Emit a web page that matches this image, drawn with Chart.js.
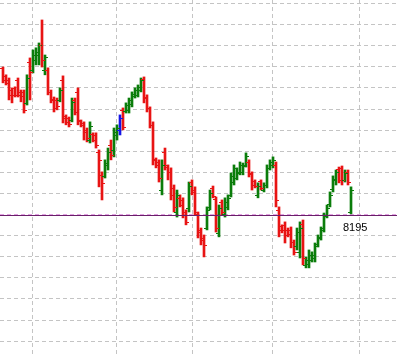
<!DOCTYPE html>
<html>
<head>
<meta charset="utf-8">
<script src="https://cdn.jsdelivr.net/npm/chart.js@4"></script>
<style>
  html, body { margin: 0; padding: 0; background: #fff; }
  canvas { display: block; }
</style>
</head>
<body>
<canvas id="chart" width="397" height="354"></canvas>
<script>
// OHLC prices, one entry per bar (left to right)
const opens = [8264.5, 8260.7, 8258.8, 8254.0, 8255.0, 8258.8, 8253.1, 8253.1, 8247.9, 8267.3,
  8263.5, 8268.3, 8270.6, 8275.4, 8263.5, 8263.5, 8253.1, 8249.8, 8249.3, 8249.3,
  8258.8, 8241.7, 8240.8, 8239.8, 8249.3, 8253.1, 8239.3, 8238.4, 8235.1, 8230.3,
  8233.2, 8232.7, 8224.7, 8213.8, 8213.3, 8218.5, 8228.0, 8225.6, 8232.7, 8235.1,
  8244.6, 8244.1, 8244.6, 8247.4, 8251.2, 8251.7, 8254.0, 8259.3, 8250.7, 8245.5,
  8237.5, 8221.3, 8219.9, 8206.6, 8224.7, 8217.5, 8215.2, 8207.6, 8196.2, 8202.9,
  8201.9, 8196.2, 8198.1, 8210.4, 8206.6, 8195.3, 8187.7, 8183.9, 8188.6, 8198.6,
  8207.6, 8202.4, 8186.3, 8201.0, 8195.3, 8198.6, 8204.3, 8210.4, 8212.3, 8214.7,
  8215.2, 8218.5, 8219.9, 8214.2, 8210.9, 8204.3, 8210.9, 8206.6, 8209.0, 8217.1,
  8218.5, 8218.5, 8197.2, 8189.6, 8190.1, 8187.7, 8187.7, 8182.0, 8180.1, 8177.3,
  8190.5, 8171.1, 8171.6, 8173.5, 8174.4, 8181.0, 8184.4, 8188.6, 8194.8, 8200.0,
  8207.1, 8211.4, 8216.6, 8217.1, 8211.4, 8215.2, 8196.2];

const highs = [8264.9, 8261.2, 8259.7, 8255.0, 8255.5, 8259.7, 8254.0, 8254.0, 8261.2, 8269.2,
  8273.0, 8274.0, 8276.3, 8287.2, 8270.6, 8264.5, 8254.0, 8250.7, 8250.2, 8255.0,
  8260.7, 8242.2, 8241.2, 8250.2, 8250.2, 8255.0, 8239.8, 8238.9, 8236.0, 8238.9,
  8233.7, 8233.7, 8225.6, 8215.2, 8220.9, 8226.5, 8230.3, 8236.0, 8237.5, 8242.2,
  8245.5, 8247.9, 8250.2, 8253.1, 8255.0, 8256.4, 8259.7, 8260.2, 8251.7, 8246.0,
  8238.9, 8221.8, 8220.9, 8220.9, 8226.5, 8218.5, 8217.1, 8209.0, 8206.6, 8204.3,
  8202.9, 8197.2, 8210.4, 8211.4, 8208.1, 8196.2, 8188.6, 8185.3, 8198.6, 8206.6,
  8208.5, 8203.3, 8199.5, 8201.9, 8202.9, 8204.3, 8214.7, 8218.5, 8217.1, 8219.9,
  8219.4, 8224.2, 8220.9, 8215.2, 8211.4, 8210.0, 8211.4, 8210.0, 8218.5, 8220.9,
  8222.3, 8219.9, 8198.6, 8190.1, 8191.5, 8188.6, 8189.1, 8182.9, 8188.6, 8191.5,
  8192.4, 8174.9, 8178.2, 8177.3, 8181.5, 8185.3, 8189.1, 8195.7, 8199.5, 8205.7,
  8213.3, 8216.1, 8217.5, 8218.0, 8216.1, 8216.1, 8208.1];

const lows = [8257.4, 8256.4, 8249.3, 8247.9, 8250.7, 8250.7, 8248.4, 8243.1, 8246.9, 8249.3,
  8262.1, 8265.9, 8265.9, 8264.9, 8261.2, 8251.7, 8247.9, 8243.6, 8244.6, 8248.4,
  8238.4, 8237.5, 8236.5, 8238.9, 8242.2, 8237.5, 8236.5, 8230.3, 8229.4, 8228.9,
  8229.4, 8226.5, 8208.1, 8201.9, 8212.3, 8216.1, 8220.9, 8222.3, 8230.3, 8232.7,
  8235.1, 8243.1, 8243.1, 8246.0, 8250.2, 8250.7, 8253.1, 8247.9, 8243.6, 8236.0,
  8218.5, 8217.1, 8210.4, 8204.3, 8216.1, 8211.4, 8201.9, 8196.2, 8193.8, 8198.6,
  8193.4, 8190.1, 8196.2, 8204.3, 8194.8, 8183.9, 8180.6, 8174.9, 8187.7, 8197.2,
  8202.9, 8186.7, 8184.4, 8194.8, 8193.8, 8197.2, 8203.3, 8209.0, 8211.4, 8213.8,
  8213.8, 8217.5, 8212.8, 8206.6, 8207.6, 8202.9, 8206.6, 8205.7, 8207.6, 8216.1,
  8217.1, 8198.6, 8184.4, 8186.3, 8181.5, 8184.4, 8179.2, 8175.8, 8178.2, 8174.4,
  8171.1, 8169.7, 8169.7, 8172.5, 8172.5, 8179.6, 8182.9, 8186.7, 8193.4, 8198.6,
  8205.7, 8209.0, 8210.0, 8209.0, 8210.4, 8209.0, 8195.3];

const closes = [8258.8, 8257.4, 8251.7, 8251.7, 8251.7, 8251.7, 8251.2, 8244.6, 8259.7, 8262.6,
  8270.6, 8272.0, 8275.4, 8268.3, 8269.7, 8253.1, 8249.3, 8245.5, 8246.5, 8254.0,
  8240.8, 8238.9, 8237.9, 8248.4, 8243.6, 8239.8, 8237.5, 8234.1, 8231.3, 8237.0,
  8230.3, 8228.0, 8220.9, 8210.0, 8219.4, 8224.7, 8223.2, 8234.1, 8236.0, 8240.8,
  8236.5, 8246.9, 8249.3, 8252.1, 8254.0, 8255.5, 8258.8, 8250.2, 8245.5, 8237.5,
  8220.9, 8218.5, 8212.3, 8218.5, 8218.5, 8215.2, 8204.3, 8198.6, 8204.3, 8199.5,
  8194.8, 8191.5, 8208.5, 8205.7, 8196.2, 8186.7, 8182.9, 8180.6, 8197.2, 8205.2,
  8203.8, 8188.6, 8198.1, 8196.2, 8201.0, 8202.9, 8213.3, 8217.1, 8215.2, 8218.5,
  8218.0, 8222.8, 8214.7, 8209.0, 8208.5, 8208.5, 8207.6, 8209.0, 8217.1, 8219.9,
  8220.9, 8201.9, 8187.7, 8187.7, 8185.3, 8185.8, 8182.0, 8177.3, 8186.7, 8188.6,
  8174.4, 8173.5, 8175.8, 8175.8, 8180.1, 8183.9, 8187.7, 8194.3, 8198.1, 8204.3,
  8211.9, 8215.2, 8211.4, 8211.4, 8214.7, 8210.4, 8206.6];

// bars drawn in the "selected" colour
const markedBars = [39];

// horizontal price line and its label
const levelPrice = 8195;

// price grid and session separators (x in bar units)
const priceTicks = [8135, 8145, 8155, 8165, 8175, 8185, 8195, 8205, 8215, 8225, 8235, 8245, 8255, 8265, 8275, 8285, 8295];
const sessionBreaks = [9.67, 37.67, 63, 89.67, 118.67];

const UP = '#0b7d0b';
const DOWN = '#e81414';
const MARK = '#1414e6';

function barColor(i) {
  if (markedBars.includes(i)) return MARK;
  return closes[i] >= opens[i] ? UP : DOWN;
}

// open tick on the left, close tick on the right of each bar
const ohlcTicks = {
  id: 'ohlcTicks',
  afterDatasetsDraw(chart) {
    const { ctx, chartArea, scales: { x, y } } = chart;
    ctx.save();
    opens.forEach((o, i) => {
      const px = Math.round(x.getPixelForValue(i));
      ctx.fillStyle = barColor(i);
      ctx.fillRect(px - 3, Math.round(y.getPixelForValue(o)), 2, 1);
      ctx.fillRect(px + 1, Math.round(y.getPixelForValue(closes[i])), 2, 1);
    });

    // level line
    const ly = Math.round(y.getPixelForValue(levelPrice));
    ctx.fillStyle = '#6a1f6a';
    ctx.fillRect(chartArea.left, ly, chartArea.right - chartArea.left, 1);

    ctx.fillStyle = '#000';
    ctx.font = '11px "Liberation Sans", Arial, sans-serif';
    ctx.textBaseline = 'alphabetic';
    ctx.textAlign = 'left';
    ctx.fillText(String(levelPrice), 343, ly + 16);
    ctx.restore();
  }
};

const ctx = document.getElementById('chart').getContext('2d');

new Chart(ctx, {
  type: 'bar',
  data: {
    datasets: [{
      data: opens.map((o, i) => ({ x: i, y: [lows[i], highs[i]] })),
      backgroundColor: opens.map((o, i) => barColor(i)),
      borderWidth: 0,
      barThickness: 2,
      grouped: false
    }]
  },
  options: {
    responsive: false,
    animation: false,
    events: [],
    layout: { padding: 0 },
    plugins: {
      legend: { display: false },
      tooltip: { enabled: false }
    },
    scales: {
      x: {
        type: 'linear',
        min: -1,
        max: 131.333,
        offset: false,
        ticks: { display: false },
        border: { display: false, dash: [4, 3] },
        grid: { offset: false, drawTicks: false, color: '#c4c4c4', lineWidth: 1 },
        afterBuildTicks: (scale) => { scale.ticks = sessionBreaks.map(v => ({ value: v })); }
      },
      y: {
        type: 'linear',
        min: 8128.89,
        max: 8296.66,
        ticks: { display: false },
        border: { display: false, dash: [4, 3] },
        grid: {
          drawTicks: false,
          lineWidth: 1,
          color: (c) => (c.tick && c.tick.value === levelPrice ? '#e2a2e2' : '#c4c4c4')
        },
        afterBuildTicks: (scale) => { scale.ticks = priceTicks.map(v => ({ value: v })); }
      }
    }
  },
  plugins: [ohlcTicks]
});
</script>
</body>
</html>
